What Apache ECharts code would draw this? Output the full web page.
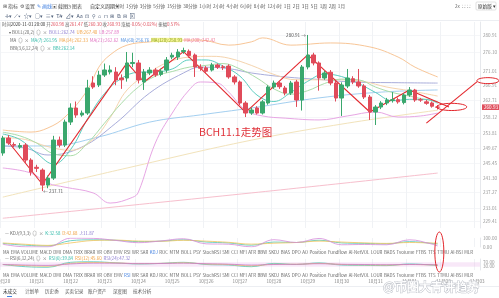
<!DOCTYPE html>
<html><head><meta charset="utf-8">
<script src="https://cdn.jsdelivr.net/npm/echarts@6/dist/echarts.min.js"></script>
<style>html,body{margin:0;padding:0;background:#fff;}#c{width:499px;height:298px;}</style>
</head><body><div id="c"></div>
<script>
// ---------- DATA ----------
const slotCount = 85; // 78 candles + empty right padding
const opens  = [248.24,252.39,250.6,249.9,250.45,246.30,244.3,243.53,239.38,241.31,251.84,250.45,256.82,260.70,258.76,259.31,267.62,267.07,269.83,270.66,270.66,269.0,269.0,273.0,273.16,267.9,270.4,271.22,270.0,271.22,274.8,274.8,276.3,276.4,275.37,272.0,271.8,271.2,272.6,272.1,272.3,269.3,267.9,262.08,259.31,260.7,259.31,262.08,266.51,267.62,266.24,264.85,267.9,262.91,272.05,275.37,273.16,269.0,270.6,267.62,263.46,266.79,268.8,267.9,266.8,263.74,259.59,260.97,262.08,262.8,263.0,262.2,264.3,265.68,263.0,262.4,262.1,260.98];
const closes = [252.39,251.01,250.4,250.3,246.30,242.97,244.0,239.38,241.31,251.84,250.45,256.82,260.70,258.76,259.31,266.24,266.51,269.83,271.22,271.22,268.45,268.5,273.16,273.3,268.45,270.66,271.2,269.83,270.9,273.99,275.3,276.2,276.6,275.2,272.05,271.7,270.9,272.6,272.0,271.9,269.3,267.9,262.08,259.31,260.14,259.3,262.4,266.51,267.62,266.6,264.85,267.62,262.91,272.05,275.37,273.16,269.0,270.4,267.62,263.46,267.07,269.0,267.9,266.8,263.74,259.59,260.97,262.08,262.91,263.0,262.4,264.3,265.68,262.91,262.9,262.0,261.2,260.93];
const highs  = [253.0,253.2,251.2,251.0,251.0,246.8,245.0,244.0,242.0,253.0,252.8,257.5,262.0,262.5,260.0,268.5,269.5,271.0,273.0,272.5,272.0,270.0,276.2,276.0,274.0,271.5,272.0,271.8,271.6,274.8,276.0,277.0,277.4,276.9,275.8,272.8,272.3,273.2,273.0,272.6,272.8,269.8,268.3,262.6,260.8,261.2,262.9,267.0,268.3,268.2,266.8,268.2,268.5,272.6,280.91,276.0,273.6,271.0,271.2,268.2,267.8,271.5,269.5,271.5,267.3,264.3,261.5,262.6,263.5,265.1,263.6,264.8,266.5,266.0,263.5,263.0,262.5,261.47];
const lows   = [247.5,250.5,249.9,249.4,245.5,242.0,243.0,237.71,238.5,240.8,249.8,249.9,256.0,258.0,258.3,258.8,266.0,266.5,269.3,270.0,267.0,266.0,268.0,272.0,267.5,265.7,269.8,269.3,269.5,270.5,274.2,274.0,275.7,274.6,269.3,271.0,270.3,270.8,271.5,271.2,268.8,267.2,261.5,258.2,258.8,258.9,258.9,261.6,266.0,266.0,264.2,264.3,261.0,260.0,271.4,272.5,265.5,268.5,267.0,262.5,258.5,266.2,267.3,266.3,263.2,257.4,256.0,260.4,261.5,262.2,261.9,261.7,263.8,262.4,262.4,261.6,260.8,260.30];

const bollUpper = [[0,254.6],[5,254.05],[8,255.2],[11,258.2],[15,265.7],[17,272.0],[19,275.4],[22,278.1],[26,279.0],[30,279.5],[35,279.5],[40,278.1],[44,279.0],[46,280.1],[51,278.1],[58,278.7],[65,277.6],[70,274.8],[73,272.0],[77,269.3]];
const bollLower = [[0,244.1],[5,242.7],[8,239.9],[11,238.8],[16,237.2],[19,234.4],[23,236.0],[24,237.4],[27,251.0],[30,259.3],[33,265.7],[35,267.9],[38,267.6],[40,265.1],[43,260.1],[46,258.5],[50,257.9],[56,257.4],[61,258.5],[66,259.6],[70,258.2],[74,258.5],[77,259.3]];
const bollMid   = [[0,250.2],[4,249.6],[8,247.7],[14,249.9],[20,256.5],[26,264.85],[32,270.4],[35,272.0],[40,271.6],[44,270.4],[50,269.3],[56,268.6],[62,267.9],[70,267.7],[77,267.6]];
const ma7   = [[0,253.5],[3,252.0],[6,248.2],[9,245.2],[12,249.2],[15,257.7],[18,264.7],[21,268.9],[24,270.6],[27,270.7],[30,271.5],[33,274.0],[36,274.0],[39,272.3],[42,269.5],[45,264.3],[48,262.5],[51,265.0],[54,268.1],[57,270.1],[60,269.4],[63,267.5],[66,265.0],[69,262.7],[72,263.1],[75,263.1],[77,262.0]];
const ma14  = [[0,254],[3,253],[6,251],[9,248],[12,247.5],[15,251],[18,256.5],[21,262],[24,266.5],[27,269.5],[30,270.8],[33,272],[36,272.5],[39,273],[42,271.5],[45,269],[48,266],[51,264.5],[54,265.5],[57,267.5],[60,268.7],[63,268.5],[66,266.5],[69,265],[72,264],[75,263],[77,262.5]];
const ma21  = [[0,252.5],[4,252],[8,250],[12,249],[16,252],[19,258],[22,265.7],[26,270.5],[29,273.2],[33,274.8],[37,275],[40,274.5],[44,272.5],[48,270],[52,268.5],[56,268.5],[60,268.5],[64,268],[68,266.5],[72,265.5],[77,264]];
const ma60  = [[0,250.2],[8,250.2],[17,252.7],[26,256.8],[35,258.8],[44,260.7],[56,263.5],[67,265.1],[77,265.7]];
const ma120 = [[0,236.05],[22,244.1],[44,251.8],[61,256.5],[77,260.1]];
const ma200 = [[0,230.2],[44,237.2],[77,242.7]];

const kdjK = [[0,40],[4,20],[8,12],[12,70],[16,80],[20,75],[24,60],[28,65],[32,80],[36,55],[40,45],[44,20],[48,55],[52,50],[56,75],[60,45],[64,40],[68,35],[72,60],[76,40],[77,33]];
const kdjD = [[0,45],[4,30],[8,18],[12,45],[16,72],[20,76],[24,66],[28,64],[32,74],[36,65],[40,52],[44,32],[48,42],[52,50],[56,65],[60,55],[64,46],[68,40],[72,50],[76,44],[77,43]];
const kdjJ = [[0,30],[4,2],[8,1],[12,98],[16,96],[20,73],[24,48],[28,67],[32,92],[36,35],[40,31],[44,2],[48,81],[52,50],[56,95],[60,25],[64,28],[68,25],[72,80],[76,32],[77,12]];
const rsi6  = [[0,50],[4,30],[8,25],[12,70],[16,75],[20,65],[24,55],[28,60],[32,70],[36,50],[40,45],[44,30],[48,60],[52,50],[56,65],[60,45],[64,42],[68,40],[72,55],[76,45],[77,40]];
const rsi12 = [[0,50],[4,40],[8,35],[12,60],[16,68],[20,64],[24,58],[28,60],[32,65],[36,55],[40,50],[44,38],[48,52],[52,52],[56,60],[60,50],[64,47],[68,45],[72,50],[76,47],[77,45]];
const rsi24 = [[0,50],[4,45],[8,42],[12,55],[16,62],[20,62],[24,58],[28,59],[32,62],[36,57],[40,53],[44,45],[48,50],[52,52],[56,57],[60,52],[64,50],[68,48],[72,50],[76,48],[77,47]];

const priceTicks = [280.91,276.10,271.01,266.91,262.71,258.12,253.81,249.67,245.45,241.30,237.27,233.01,229.41];
const kdjTicks = [0,100];
const rsiTicks = [0,30,70,100];

// zigzag annotation points [candle index, price]
const zigzag = [[1,251.3],[7,239.6],[22,273.2],[25,267.9],[32,276.3],[43,259.5],[54,275.4],[65,259.6],[72,265.7],[79,261.0]];
const arrowLine = [[75,256.5],[84,268.0]];

const indicatorTabs = ['MA','EMA','VOLUME','MACD','DMI','DMA','TRIX','BRAR','VR','OBV','EMV','RSI','WR','SAR','KDJ','ROC','MTM','BOLL','PSY','StochRSI','SMI','CCI','MFI','ATR','BBW','SKDJ','BIAS','DPO','AO','Position','Fundflow','AI-NetVOL','LOUR','BADS','Tvolume','FTBS','TTS','TTMU','AI-BSI','MLR'];
const periods = ['分时','1分钟','3分钟','5分钟','15分钟','30分钟','1小时','2小时','4小时','6小时','8小时','12小时','1日','2日','3日','5日','1周','2周','1月'];
const bottomTabs = ['未成交','计划单','历史委','买卖记录','账户资产','深度图','技术分析'];

// ---------- BUILD ----------
const categories = [];
{
  const t0 = new Date(2020, 9, 20, 0, 0);
  for (let i = 0; i < slotCount; i++) {
    const d = new Date(t0.getTime() + i * 4 * 3600 * 1000);
    const p = n => String(n).padStart(2, '0');
    categories.push(`${p(d.getMonth()+1)}-${p(d.getDate())} ${p(d.getHours())}:00`);
  }
}
const ohlc = opens.map((o, i) => [o, closes[i], lows[i], highs[i]]);
const isDay = (idx, v) => /00:00$/.test(categories[idx] || v);
const dayLabel = v => { const m = +v.slice(0,2), d = +v.slice(3,5); return m + '月' + String(d).padStart(2,'0'); };

const FONT = '"Noto Sans CJK SC","Noto Sans",sans-serif';
const UP = '#3aa76d', DOWN = '#e04b5a', ANN = '#e3262c';

function lineSeries(name, data, color, xi, yi, w) {
  return { name, type: 'line', data, xAxisIndex: xi, yAxisIndex: yi, smooth: 0.4, symbol: 'none', silent: true,
    lineStyle: { color, width: w || 1 }, z: 3 };
}

const segs = [];
for (let i = 0; i < zigzag.length - 1; i++) segs.push([{ coord: zigzag[i] }, { coord: zigzag[i+1] }]);
segs.push([{ coord: arrowLine[0] }, { coord: arrowLine[1] }]);

const xBase = (gi, showLabel) => ({
  type: 'category', data: categories, gridIndex: gi, boundaryGap: true,
  axisLine: { show: false }, axisTick: { show: false },
  axisLabel: showLabel ? { show: true, interval: (i, v) => isDay(i, v), formatter: dayLabel, fontSize: 4.6, color: '#888', margin: 9, fontFamily: FONT } : { show: false },
  splitLine: { show: true, interval: (i, v) => isDay(i, v), lineStyle: { color: '#f0f2f5', width: 1 } }
});
const yBase = (gi, min, max, ticks, digits) => ({
  type: 'value', gridIndex: gi, position: 'right', min, max, scale: true,
  axisLine: { show: true, lineStyle: { color: '#e6e8ec' } },
  axisTick: { show: false, customValues: ticks },
  axisLabel: { customValues: ticks, formatter: v => v.toFixed(digits), fontSize: 4.6, color: '#999', margin: 3, fontFamily: FONT },
  splitLine: { show: gi === 0, lineStyle: { color: '#f5f6f8' } }
});

const chart = echarts.init(document.getElementById('c'));
chart.setOption({
  animation: false,
  backgroundColor: '#fff',
  grid: [
    { left: 0, right: 19, top: 22, height: 206, containLabel: false, outerBoundsMode: 'none' },
    { left: 0, right: 19, top: 238, height: 9, containLabel: false, outerBoundsMode: 'none' },
    { left: 0, right: 19, top: 259, height: 11, containLabel: false, outerBoundsMode: 'none' }
  ],
  xAxis: [xBase(0, false), xBase(1, false), xBase(2, true)],
  yAxis: [yBase(0, 227.5, 284.5, priceTicks, 2), yBase(1, 0, 100, kdjTicks, 2), yBase(2, 0, 100, rsiTicks, 2)],
  series: [
    lineSeries('MA200', ma200, '#f7bfcd', 0, 0),
    lineSeries('MA120', ma120, '#f2e3bb', 0, 0),
    lineSeries('MA60', ma60, '#a3cff0', 0, 0),
    lineSeries('UB', bollUpper, '#f8c697', 0, 0),
    lineSeries('LB', bollLower, '#e7a6e4', 0, 0),
    lineSeries('BOLL', bollMid, '#a9addb', 0, 0),
    lineSeries('MA21', ma21, '#f5d4ae', 0, 0),
    lineSeries('MA14', ma14, '#acddaa', 0, 0),
    lineSeries('MA7', ma7, '#5ccdc0', 0, 0),
    {
      name: 'K', type: 'candlestick', data: ohlc, xAxisIndex: 0, yAxisIndex: 0, barWidth: 4, z: 5,
      itemStyle: { color: UP, color0: DOWN, borderColor: UP, borderColor0: DOWN, borderWidth: 1 },
      markPoint: {
        symbol: 'circle', symbolSize: 0, silent: true,
        data: [
          { name: 'hi', type: 'max', valueDim: 'highest', label: { show: true, position: 'left', distance: 2, formatter: p => p.value.toFixed(2) + ' →', fontSize: 4.6, color: '#555', fontFamily: FONT } },
          { name: 'lo', type: 'min', valueDim: 'lowest', label: { show: true, position: 'right', distance: 1, formatter: p => '← ' + p.value.toFixed(2), fontSize: 4.6, color: '#555', fontFamily: FONT } }
        ]
      },
      markLine: {
        silent: true, symbol: ['none', 'none'], animation: false,
        lineStyle: { color: ANN, width: 1.1, type: 'solid' }, label: { show: false },
        data: segs.concat([{
          yAxis: closes[closes.length - 1],
          lineStyle: { color: 'rgba(224,75,90,0.0)', width: 0 },
          label: { show: true, position: 'end', distance: 2, formatter: p => p.value.toFixed(2), color: '#fff', backgroundColor: '#e0505e', padding: [1, 2, 0, 2], fontSize: 4.6, fontFamily: FONT }
        }])
      }
    },
    lineSeries('K', kdjK, '#4cc7b9', 1, 1, 0.8),
    lineSeries('D', kdjD, '#f2c45a', 1, 1, 0.8),
    lineSeries('J', kdjJ, '#d68ad9', 1, 1, 0.8),
    Object.assign(lineSeries('RSI6', rsi6, '#4cc7b9', 2, 2, 0.8), {
      markArea: { silent: true, itemStyle: { color: 'rgba(236,190,236,0.35)' }, data: [[{ yAxis: 30 }, { yAxis: 70 }]] }
    }),
    lineSeries('RSI12', rsi12, '#f2c45a', 2, 2, 0.8),
    lineSeries('RSI24', rsi24, '#c77ad0', 2, 2, 0.8)
  ]
});

// ---------- TEXT / ANNOTATION OVERLAY ----------
const G = [];
const font = s => `${s}px ${FONT}`;
function txt(x, y, text, size, fill, extra) {
  G.push({ type: 'text', silent: true, z: 100, style: Object.assign({ x, y, text, fill, font: font(size), textVerticalAlign: 'middle' }, extra || {}) });
}
const R = s => ({
  g: { fill: '#666', fontSize: s, fontFamily: FONT }, d: { fill: '#333', fontSize: s, fontFamily: FONT },
  r: { fill: '#e0505e', fontSize: s, fontFamily: FONT }, t: { fill: '#2fb9a8', fontSize: s, fontFamily: FONT },
  o: { fill: '#f0a040', fontSize: s, fontFamily: FONT }, p: { fill: '#e070c0', fontSize: s, fontFamily: FONT },
  v: { fill: '#8a7ad0', fontSize: s, fontFamily: FONT }, b: { fill: '#4f8fe0', fontSize: s, fontFamily: FONT },
  y: { fill: '#8aa020', backgroundColor: '#f6f59a', fontSize: s, fontFamily: FONT }, k: { fill: '#ef6f8f', fontSize: s, fontFamily: FONT }
});
function rich(x, y, text, size) {
  G.push({ type: 'text', silent: true, z: 100, style: { x, y, text, rich: R(size), font: font(size), fill: '#666', textVerticalAlign: 'middle' } });
}

// toolbar row 1
const ctx = document.createElement('canvas').getContext('2d');
const tw = (s, size) => { ctx.font = font(size); return ctx.measureText(s).width; };
[['⊞ 指标', 3, '#555'], ['⚙ 设置', 20, '#555'], ['✎ 画线', 37, '#3f7fe0'], ['▣ 截图', 52, '#555'], ['◷ 图表', 67, '#555']].forEach(a => txt(a[1], 6, a[0], 5, a[2]));
txt(90, 6, '自定义周期 ▾', 5, '#333');
{
  const x0 = 115, x1 = 345, sz = 4.6;
  const ws = periods.map(p => tw(p, sz));
  const gap = (x1 - x0 - ws.reduce((a, b) => a + b, 0)) / (periods.length - 1);
  let x = x0;
  periods.forEach((p, i) => { txt(x, 6, p, sz, '#555'); x += ws[i] + gap; });
}
txt(455, 6, '2x  ⛶  ⛶', 4.6, '#666');
G.push({ type: 'rect', silent: true, z: 99, shape: { x: 476, y: 2, width: 20, height: 8, r: 1 }, style: { fill: '#fff', stroke: '#ccc', lineWidth: 0.6 } });
txt(478, 6, '原始版 ▾', 4.6, '#333');
// toolbar row 2 icons
txt(5, 15.5, '✛▾  ⟋▾  ☆▾  ○▾  ≡▾  T⁄▾  ⊿▾  Aa  ⊡  ⚲  ⌂  ⊓  ⊞  ⧉  ⊟  ⊠', 5.4, '#50607a');
G.push({ type: 'line', silent: true, z: 99, shape: { x1: 0, y1: 20.5, x2: 499, y2: 20.5 }, style: { stroke: '#eceef2', lineWidth: 1 } });

// legend lines
rich(2, 24, '{g|时间}{d|2020-11-01 20:00} {g|开}{r|260.98} {g|高}{r|261.47} {g|低}{r|260.30} {g|收}{r|260.93} {g|涨幅}{r|-0.05(-0.02%)} {g|振幅}{r|0.57%}', 4.4);
rich(9, 32, '{g|▾ BOLL(20,2)  ◎  ×  }{v|BOLL:262.74}  {o|UB:267.40}  {p|LB:257.89}', 4.4);
rich(10, 40, '{g|MA  ◎  ×  }{t|MA(7):261.95}  {o|MA(14):262.33}  {p|MA(21):262.62}  {b|MA(60):256.76}  {y|MA(120):250.93}  {k|MA(200):242.42}', 4.4);
rich(10, 48, '{g|BBI(3,6,12,24)  ◎  ×  }{t|BBI:262.14}', 4.4);

// chart title annotation
txt(199, 132, 'BCH11.1走势图', 10.5, '#e0323a');

// indicator legends
rich(5, 233, '{g|— KDJ(9,3,3)  ◎  ×  }{t|K:32.58}  {o|D:42.68}  {v|J:11.87}', 4.4);
rich(5, 258, '{g|— RSI(6,12,24)  ◎  ×  }{t|RSI(6):39.84}  {o|RSI(12):45.60}  {v|RSI(24):47.32}', 4.4);

// indicator tab rows
function tabRow(y, active) {
  const x0 = 3, x1 = 473, sz = 4.4;
  const ws = indicatorTabs.map(p => tw(p, sz));
  const gap = (x1 - x0 - ws.reduce((a, b) => a + b, 0)) / (indicatorTabs.length - 1);
  let x = x0;
  indicatorTabs.forEach((p, i) => { txt(x, y, p, sz, p === active ? '#3f7fe0' : '#666'); x += ws[i] + gap; });
}
tabRow(252, 'KDJ');
tabRow(275.5, 'RSI');

// bottom tabs
G.push({ type: 'line', silent: true, z: 99, shape: { x1: 0, y1: 286.5, x2: 499, y2: 286.5 }, style: { stroke: '#eceef2', lineWidth: 1 } });
{
  const xs = [3, 25, 45, 65, 88, 113, 133];
  bottomTabs.forEach((t, i) => txt(xs[i], 291.5, t, 4.6, i === 0 ? '#333' : '#555'));
  G.push({ type: 'rect', silent: true, z: 100, shape: { x: 7, y: 296, width: 5, height: 1 }, style: { fill: '#3f7fe0' } });
}

// ellipses positioned through the chart's own scales
const px = (gi, p) => chart.convertToPixel({ gridIndex: gi }, p);
const a79 = px(0, [79, 261.0]), a80 = px(0, [80, 261.0]);
const slot = a80[0] - a79[0];
G.push({ type: 'ellipse', silent: true, z: 101, shape: { cx: (a79[0] + a80[0]) / 2, cy: a79[1], rx: 15, ry: 3.6 }, style: { fill: 'none', stroke: ANN, lineWidth: 1 } });
const e2 = px(0, [arrowLine[1][0], arrowLine[1][1]]);
G.push({ type: 'ellipse', silent: true, z: 101, shape: { cx: e2[0] + 1.9 * slot, cy: e2[1] - 1, rx: 11, ry: 3 }, style: { fill: 'none', stroke: ANN, lineWidth: 1 } });
const k100 = px(1, [77, 100]), r0 = px(2, [77, 0]);
G.push({ type: 'ellipse', silent: true, z: 101, shape: { cx: k100[0] + 0.3 * slot, cy: (k100[1] - 6 + r0[1] + 2) / 2, rx: 4.5, ry: (r0[1] + 2 - (k100[1] - 6)) / 2 }, style: { fill: 'none', stroke: ANN, lineWidth: 1 } });

// watermark
txt(383, 288, '@币圈大青讲趋势', 13, '#ffffff', { stroke: '#b8bcc4', lineWidth: 0.9, fontWeight: 'bold' });

chart.setOption({ graphic: G });
</script>
</body></html>
